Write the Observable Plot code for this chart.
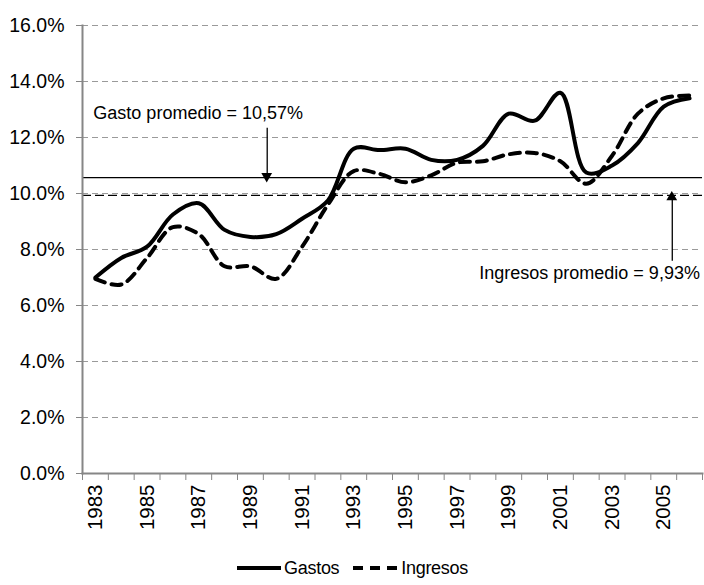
<!DOCTYPE html>
<html>
<head>
<meta charset="utf-8">
<script src="https://cdn.jsdelivr.net/npm/d3@7"></script>
<script src="https://cdn.jsdelivr.net/npm/@observablehq/plot@0.6"></script>
<style>
  body { margin: 0; background: #fff; font-family: "Liberation Sans", Arial, sans-serif; }
  #chart { width: 704px; }
  .legend { height: 46px; display: flex; justify-content: center; align-items: center; font-size: 18px; color: #000; letter-spacing: -0.3px; }
  .legend .item { display: flex; align-items: center; margin: 0 6px; }
  .legend svg { margin-right: 2px; }
</style>
</head>
<body>
<div id="chart"></div>
<script>
// --- Data ---
const years = [1983,1984,1985,1986,1987,1988,1989,1990,1991,1992,1993,1994,1995,1996,1997,1998,1999,2000,2001,2002,2003,2004,2005,2006];
const gastos = [7.0,7.7,8.1,9.25,9.65,8.7,8.45,8.55,9.1,9.75,11.6,11.55,11.6,11.2,11.2,11.7,12.85,12.6,13.6,10.75,11.0,11.8,13.1,13.4];
const ingresos = [6.95,6.75,7.7,8.8,8.55,7.4,7.4,6.95,8.1,9.6,10.8,10.7,10.4,10.65,11.1,11.15,11.4,11.45,11.15,10.35,11.35,12.85,13.4,13.5];
const yTicks = [0,2,4,6,8,10,12,14,16];
const xLabelYears = [1983,1985,1987,1989,1991,1993,1995,1997,1999,2001,2003,2005];
const gastoPromedio = 10.57;
const ingresoPromedio = 9.93;
const annoLabels = ["Gasto promedio = 10,57%", "Ingresos promedio = 9,93%"];
const annoLabelX = [1982.92, 2006.4];
const annoLabelY = [12.86, 7.14];
const annoAnchor = ["start", "end"];
const arrowX = [1989.65, 2005.33];
const arrowFrom = [12.35, 7.6];
const arrowTo = [10.6, 9.85];

// --- Build tables ---
const series = [
  ...years.map((y, i) => ({year: y, value: gastos[i], serie: "Gastos"})),
  ...years.map((y, i) => ({year: y, value: ingresos[i], serie: "Ingresos"}))
];
const boundaries = d3.range(years[0] - 0.5, years[years.length - 1] + 1, 1);
const annos = annoLabels.map((t, i) => ({text: t, x: annoLabelX[i], y: annoLabelY[i], anchor: annoAnchor[i]}));
const arrows = arrowX.map((x, i) => ({x, y1: arrowFrom[i], y2: arrowTo[i], rot: arrowTo[i] < arrowFrom[i] ? 180 : 0, dy: arrowTo[i] < arrowFrom[i] ? -5 : 5}));

const axisGray = "#868686";
const font = "Liberation Sans, Arial, sans-serif";

const chart = Plot.plot({
  width: 704,
  height: 545,
  marginLeft: 82,
  marginRight: 2,
  marginTop: 25,
  marginBottom: 72,
  style: {fontFamily: font, fontSize: "18px", color: "#000", background: "#fff", overflow: "visible"},
  x: {domain: [years[0] - 0.5, years[years.length - 1] + 0.5]},
  y: {domain: [0, 16]},
  marks: [
    Plot.gridY(yTicks.filter(d => d > 0), {stroke: "#9a9a9a", strokeOpacity: 1, strokeDasharray: "6,4", strokeWidth: 1}),
    Plot.axisY({ticks: yTicks, tickFormat: d => d.toFixed(1) + "%", tickSize: 6, tickPadding: 12, stroke: axisGray, label: null, fontSize: 19.5}),
    Plot.axisX({ticks: boundaries, tickSize: 7, tickFormat: () => "", stroke: axisGray, label: null}),
    Plot.axisX({ticks: xLabelYears, tickSize: 0, tickPadding: 11, tickRotate: -90, tickFormat: d => String(d), label: null, fontSize: 20.5}),
    Plot.ruleY([gastoPromedio], {stroke: "#000", strokeWidth: 1.3}),
    Plot.ruleY([ingresoPromedio], {stroke: "#000", strokeWidth: 1.3, strokeDasharray: "9,4"}),
    Plot.frame({anchor: "left", stroke: axisGray, strokeWidth: 2}),
    Plot.frame({anchor: "bottom", stroke: axisGray, strokeWidth: 2}),
    Plot.line(series.filter(d => d.serie === "Gastos"), {x: "year", y: "value", curve: "catmull-rom", stroke: "#000", strokeWidth: 4}),
    Plot.line(series.filter(d => d.serie === "Ingresos"), {x: "year", y: "value", curve: "catmull-rom", stroke: "#000", strokeWidth: 4, strokeDasharray: "10,7"}),
    Plot.link(arrows, {x1: "x", x2: "x", y1: "y1", y2: "y2", stroke: "#000", strokeWidth: 1.3}),
    Plot.dot(arrows, {x: "x", y: "y2", symbol: "triangle", r: 4, fill: "#000", stroke: null, rotate: "rot", dy: "dy"}),
    Plot.text(annos.filter(d => d.anchor === "start"), {x: "x", y: "y", text: "text", textAnchor: "start", fontSize: 18, fill: "#000", style: "letter-spacing:-0.2px"}),
    Plot.text(annos.filter(d => d.anchor === "end"), {x: "x", y: "y", text: "text", textAnchor: "end", fontSize: 18, fill: "#000"})
  ]
});
document.getElementById("chart").append(chart);

// Legend
const legend = document.createElement("div");
legend.className = "legend";
legend.innerHTML = `
  <span class="item"><svg width="46" height="10"><line x1="1" y1="5" x2="45" y2="5" stroke="#000" stroke-width="4"/></svg>Gastos</span>
  <span class="item"><svg width="48" height="10"><line x1="2" y1="5" x2="46" y2="5" stroke="#000" stroke-width="4" stroke-dasharray="10,7"/></svg>Ingresos</span>`;
document.body.append(legend);
</script>
</body>
</html>
